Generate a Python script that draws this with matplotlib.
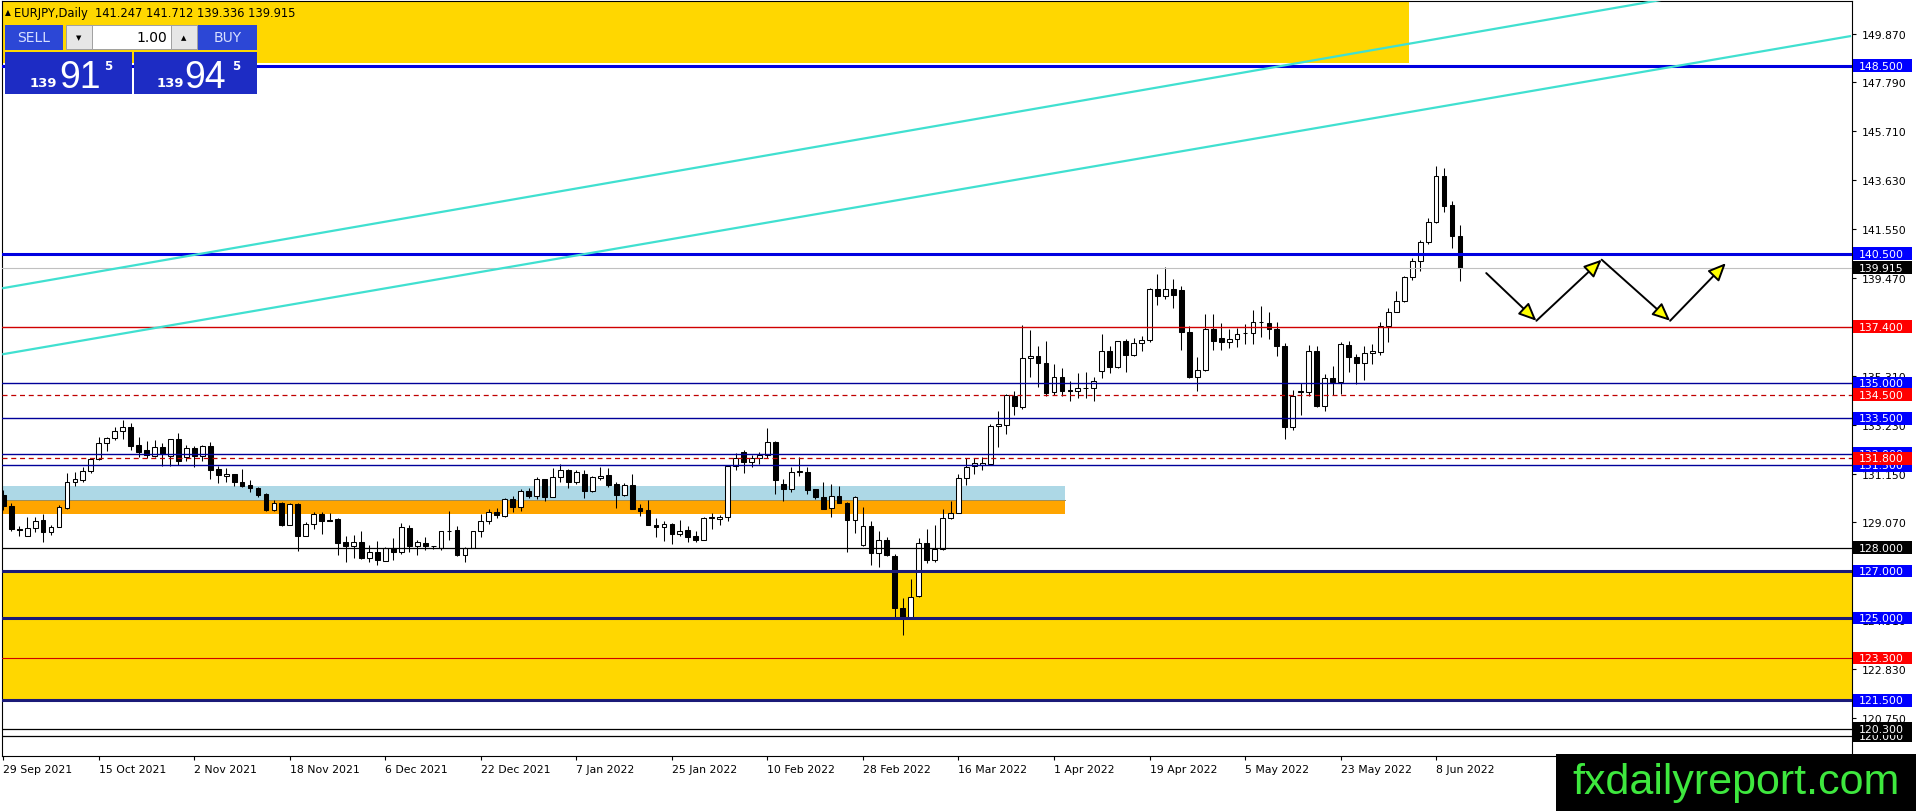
import matplotlib
matplotlib.use("Agg")
import matplotlib.pyplot as plt
from matplotlib.patches import Rectangle
from matplotlib.transforms import blended_transform_factory
import numpy as np

# EURJPY daily candles, bar 0 = 29 Sep 2021 ... bar 183 = last bar
opens = [130.25, 129.75, 128.80, 128.50, 128.82, 129.17, 128.65, 128.86, 129.68, 130.77,
         130.87, 131.24, 131.77, 132.43, 132.65, 132.94, 133.11, 132.36, 132.15, 131.91,
         132.26, 131.91, 132.62, 131.84, 132.23, 131.88, 132.31, 131.34, 131.05, 131.13,
         130.77, 130.66, 130.52, 130.28, 129.61, 129.89, 128.97, 129.85, 128.50, 129.00,
         129.43, 129.18, 129.21, 128.22, 128.08, 128.22, 127.54, 127.79, 127.44, 127.97,
         127.82, 128.82, 128.08, 128.19, 128.05, 127.97, 128.72, 128.74, 127.70, 127.98,
         128.69, 129.12, 129.50, 129.33, 130.07, 129.74, 130.42, 130.21, 130.92, 130.17,
         130.99, 131.30, 130.78, 131.13, 130.40, 130.96, 131.09, 130.71, 130.25, 130.67,
         129.69, 129.60, 128.96, 128.86, 129.01, 128.58, 128.75, 128.51, 128.34, 129.24,
         129.21, 129.29, 131.46, 132.06, 131.63, 131.80, 131.94, 132.51, 130.71, 130.50,
         131.23, 131.23, 130.50, 130.14, 129.67, 130.21, 129.89, 129.19, 128.11, 128.91,
         127.76, 128.34, 127.66, 125.43, 125.01, 125.93, 128.18, 127.49, 127.94, 129.25,
         129.46, 130.95, 131.49, 131.52, 131.56, 133.16, 133.23, 134.46, 133.97, 136.05,
         136.17, 135.84, 134.60, 135.27, 134.70, 134.68, 134.80, 134.78, 135.50, 136.35,
         135.67, 136.78, 136.21, 136.69, 136.85, 139.00, 138.72, 139.00, 138.96, 137.16,
         135.24, 135.56, 137.30, 136.90, 136.73, 136.87, 137.13, 137.13, 137.58, 137.56,
         137.30, 136.59, 133.12, 134.63, 134.63, 136.38, 134.04, 135.20, 135.06, 136.63,
         136.12, 135.84, 136.28, 136.31, 137.44, 138.01, 138.48, 139.50, 140.21, 140.99,
         141.84, 143.80, 142.58, 141.247]
highs = [130.45, 129.89, 128.93, 129.28, 129.28, 129.43, 128.96, 129.82, 131.17, 131.20,
         131.41, 131.80, 132.72, 132.72, 133.11, 133.43, 133.30, 132.72, 132.52, 132.59,
         132.45, 132.62, 132.87, 132.36, 132.33, 132.36, 132.50, 131.48, 131.38, 131.13,
         131.34, 130.89, 130.56, 130.31, 130.02, 129.92, 129.88, 129.88, 129.07, 129.50,
         129.50, 129.47, 129.24, 128.50, 128.53, 128.69, 128.12, 128.26, 128.04, 128.39,
         129.04, 128.96, 128.33, 128.46, 128.08, 128.72, 129.54, 128.93, 128.04, 128.72,
         129.41, 129.66, 129.67, 130.10, 130.18, 130.50, 130.54, 130.99, 130.92, 131.38,
         131.56, 131.35, 131.30, 131.30, 131.06, 131.42, 131.38, 130.81, 130.75, 131.13,
         129.86, 130.03, 129.25, 129.15, 129.03, 129.18, 128.91, 128.72, 129.29, 129.46,
         129.39, 131.46, 132.03, 132.13, 131.94, 132.08, 133.09, 132.52, 130.92, 131.42,
         131.84, 131.42, 130.50, 130.81, 130.71, 130.61, 129.93, 130.21, 129.72, 129.15,
         128.69, 128.44, 127.73, 125.84, 126.67, 128.40, 128.79, 128.96, 129.64, 130.00,
         131.13, 131.80, 131.80, 131.87, 133.26, 133.83, 134.53, 134.65, 137.47, 137.26,
         136.59, 136.78, 135.81, 135.63, 135.10, 135.43, 135.49, 135.24, 137.09, 136.59,
         136.80, 136.87, 136.90, 136.99, 139.03, 139.64, 139.95, 139.43, 139.14, 137.44,
         136.09, 137.94, 137.94, 137.56, 137.30, 137.33, 137.51, 138.11, 138.29, 138.01,
         137.61, 136.70, 134.70, 134.99, 136.62, 136.59, 135.39, 135.71, 136.76, 136.77,
         136.24, 136.59, 136.66, 137.61, 138.19, 138.90, 139.57, 140.31, 141.10, 142.01,
         144.22, 144.15, 142.76, 141.712]
lows = [129.60, 128.69, 128.50, 128.50, 128.67, 128.25, 128.55, 128.86, 129.64, 130.63,
        130.80, 131.17, 131.72, 132.09, 132.57, 132.62, 132.16, 131.84, 131.81, 131.84,
        131.45, 131.45, 131.53, 131.70, 131.41, 131.67, 130.92, 130.75, 130.77, 130.60,
        130.56, 130.35, 130.14, 129.57, 129.57, 128.93, 128.96, 127.87, 128.48, 128.79,
        128.57, 129.12, 127.68, 127.40, 127.54, 127.51, 127.40, 127.27, 127.41, 127.48,
        127.72, 127.79, 127.68, 127.91, 127.94, 127.91, 128.33, 127.66, 127.40, 127.98,
        128.47, 128.99, 129.25, 129.29, 129.53, 129.57, 130.10, 130.07, 129.96, 130.14,
        130.78, 130.54, 130.71, 130.10, 130.35, 130.89, 130.57, 129.67, 130.21, 129.64,
        129.33, 128.94, 128.47, 128.30, 128.16, 128.48, 128.25, 128.25, 128.34, 128.77,
        128.94, 129.11, 131.32, 131.18, 131.42, 131.56, 131.81, 130.28, 129.96, 130.35,
        131.06, 130.28, 130.07, 129.62, 129.29, 129.89, 127.83, 128.62, 128.08, 127.26,
        127.19, 127.66, 125.03, 124.28, 125.01, 125.89, 127.35, 127.40, 127.91, 129.22,
        129.46, 130.67, 131.11, 131.30, 131.52, 132.27, 132.83, 133.65, 133.90, 135.24,
        134.82, 134.46, 134.49, 134.46, 134.22, 134.35, 134.35, 134.25, 135.20, 135.43,
        135.63, 135.46, 136.17, 136.35, 136.76, 138.32, 138.58, 138.18, 136.42, 135.22,
        134.68, 135.53, 136.41, 136.41, 136.48, 136.52, 136.66, 136.66, 136.95, 136.87,
        136.14, 132.62, 133.02, 133.66, 134.44, 133.99, 133.83, 134.49, 134.53, 135.48,
        134.96, 135.14, 135.81, 136.21, 136.73, 138.01, 138.43, 139.40, 139.78, 140.92,
        141.80, 142.29, 140.73, 139.336]
closes = [129.75, 128.79, 128.75, 128.83, 129.14, 128.65, 128.89, 129.71, 130.77, 130.92,
          131.27, 131.77, 132.43, 132.66, 132.94, 133.11, 132.33, 132.05, 131.94, 132.26,
          131.98, 132.62, 131.70, 132.22, 131.88, 132.31, 131.31, 131.10, 131.13, 130.77,
          130.60, 130.52, 130.23, 129.61, 129.88, 128.96, 129.85, 128.50, 129.00, 129.43,
          129.14, 129.15, 128.19, 128.08, 128.22, 127.54, 127.79, 127.48, 127.98, 127.82,
          128.86, 128.08, 128.22, 128.05, 128.05, 128.69, 128.69, 127.70, 127.98, 128.69,
          129.13, 129.50, 129.39, 130.07, 129.74, 130.42, 130.21, 130.92, 130.14, 130.99,
          131.30, 130.78, 131.23, 130.40, 130.99, 131.06, 130.67, 130.25, 130.67, 129.64,
          129.57, 128.94, 128.86, 129.01, 128.58, 128.72, 128.47, 128.34, 129.26, 129.29,
          129.29, 131.46, 131.80, 131.63, 131.80, 131.94, 132.48, 130.89, 130.50, 131.20,
          131.23, 130.45, 130.14, 129.64, 130.21, 129.89, 129.19, 130.14, 128.91, 127.76,
          128.34, 127.69, 125.43, 125.01, 125.91, 128.18, 127.49, 127.94, 129.25, 129.46,
          130.95, 131.42, 131.59, 131.59, 133.16, 133.24, 134.49, 134.01, 136.05, 136.14,
          135.84, 134.58, 135.27, 134.65, 134.68, 134.78, 134.78, 135.07, 136.35, 135.67,
          136.78, 136.21, 136.69, 136.85, 139.00, 138.72, 139.00, 138.76, 137.16, 135.24,
          135.56, 137.30, 136.80, 136.73, 136.87, 137.09, 137.13, 137.58, 137.58, 137.30,
          136.59, 133.12, 134.44, 134.63, 136.38, 134.04, 135.20, 135.03, 136.66, 136.09,
          135.84, 136.28, 136.38, 137.41, 138.01, 138.48, 139.53, 140.18, 140.99, 141.84,
          143.80, 142.55, 141.27, 139.915]

date_ticks = [0, 12, 24, 36, 48, 60, 72, 84, 96, 108, 120, 132, 144, 156, 168, 180]
date_labels = ["29 Sep 2021", "15 Oct 2021", "2 Nov 2021", "18 Nov 2021", "6 Dec 2021",
               "22 Dec 2021", "7 Jan 2022", "25 Jan 2022", "10 Feb 2022", "28 Feb 2022",
               "16 Mar 2022", "1 Apr 2022", "19 Apr 2022", "5 May 2022", "23 May 2022",
               "8 Jun 2022"]
price_ticks = [149.87, 147.79, 145.71, 143.63, 141.55, 139.47, 137.39, 135.31, 133.23,
               131.15, 129.07, 126.99, 124.91, 122.83, 120.75]

# horizontal levels: price, line colour, width, style, label box colour
levels = [
    (148.5, "#0000e0", 2.2, "-", "#0000ff"),
    (140.5, "#0000e0", 2.2, "-", "#0000ff"),
    (137.4, "#d00000", 1.0, "-", "#ff0000"),
    (135.0, "#000099", 1.0, "-", "#0000ff"),
    (134.5, "#c00000", 0.9, (0, (4, 3)), "#ff0000"),
    (133.5, "#000099", 1.0, "-", "#0000ff"),
    (132.0, "#000099", 1.0, "-", "#0000ff"),
    (131.8, "#c00000", 0.9, (0, (4, 3)), "#ff0000"),
    (131.5, "#000099", 1.0, "-", "#0000ff"),
    (128.0, "#000000", 0.9, "-", "#000000"),
    (127.0, "#1a1a78", 2.2, "-", "#0000ff"),
    (125.0, "#1a1a78", 2.2, "-", "#0000ff"),
    (123.3, "#d00000", 0.8, "-", "#ff0000"),
    (121.5, "#1a1a78", 2.2, "-", "#0000ff"),
    (120.0, "#000000", 0.9, "-", "#000000"),
    (120.3, "#000000", 0.9, "-", "#000000"),
]
current_price = 139.915

# zones: first bar, last bar, low, high, colour
zones = [
    (-1, 176.6, 148.62, 152.0, "#ffd700"),
    (-1, 240, 121.5, 127.0, "#ffd700"),
    (-1, 133.4, 130.02, 130.62, "#add8e6"),
    (-1, 133.4, 129.42, 130.02, "#ffa500"),
]
# turquoise channel lines: (bar, price) anchors
trend_upper = ([0, 232], [139.04, 152.70])
trend_lower = ([0, 232], [136.23, 149.76])
# projected zig-zag path
path_bars = [186.3, 192.6, 200.8, 209.4, 216.4]
path_prices = [139.68, 137.65, 140.25, 137.65, 140.10]

W, H = 1916, 812
fig = plt.figure(figsize=(W / 100, H / 100), dpi=100)
fig.patch.set_facecolor("white")
L, R, T, B = 2, 1852, 2, 757
ylo, yhi = 119.13, 151.257
ax = fig.add_axes([L / W, 1 - B / H, (R - L) / W, (B - T) / H])
ax.set_xlim(-0.16, 232.25)
ax.set_ylim(ylo, yhi)

for x0, x1, lo, hi, col in zones:
    ax.add_patch(Rectangle((x0, lo), x1 - x0, hi - lo, facecolor=col, edgecolor="none", zorder=0.5))
ax.plot([-1, 133.4], [130.02, 130.02], color="#9c8f5c", lw=0.7, zorder=0.6)

o = np.array(opens)
h = np.array(highs)
lo = np.array(lows)
c = np.array(closes)
x = np.arange(len(o))
up = c >= o
ax.vlines(x, lo, h, color="black", lw=0.75, zorder=2)
bottom = np.minimum(o, c)
height = np.maximum(np.abs(c - o), 0.02)
ax.bar(x[up], height[up], bottom=bottom[up], width=0.6, facecolor="white",
       edgecolor="black", linewidth=0.75, zorder=3)
ax.bar(x[~up], height[~up], bottom=bottom[~up], width=0.6, facecolor="black",
       edgecolor="black", linewidth=0.75, zorder=3)

for price, col, lw, ls, _ in levels:
    ax.axhline(price, color=col, lw=lw, ls=ls, zorder=4)
ax.axhline(current_price, color="#c0c0c0", lw=0.8, zorder=3.5)

ax.plot(*trend_upper, color="#40e0d0", lw=1.6, zorder=4.5)
ax.plot(*trend_lower, color="#40e0d0", lw=1.6, zorder=4.5)

for k in range(len(path_bars) - 1):
    ax.annotate("", xy=(path_bars[k + 1], path_prices[k + 1]),
                xytext=(path_bars[k], path_prices[k]),
                arrowprops=dict(arrowstyle="-|>,head_length=0.9,head_width=0.4",
                                mutation_scale=12, fc="#ffff00", ec="black", lw=1.4,
                                shrinkA=0, shrinkB=0), zorder=6)

# axes look
for s in ax.spines.values():
    s.set_color("black")
    s.set_linewidth(0.8)
ax.yaxis.tick_right()
ax.set_yticks(price_ticks)
ax.set_yticklabels([f"{p:.3f}" for p in price_ticks])
ax.tick_params(axis="y", direction="out", length=3, pad=4, labelsize=7.8, colors="black")
ax.set_xticks(date_ticks)
ax.set_xticklabels(date_labels)
ax.tick_params(axis="x", direction="out", length=3, pad=3, labelsize=7.8)
for t in ax.get_xticklabels():
    t.set_horizontalalignment("left")

# price boxes on the right scale
tr = blended_transform_factory(ax.transAxes, ax.transData)
box_w = 59 / (R - L)
half = 6.3 * (yhi - ylo) / (B - T)
order = {"#0000ff": 11, "#ff0000": 12, "#000000": 13}
all_boxes = [(p, bc) for p, _, _, _, bc in levels] + [(current_price, "#000000")]
for n, (price, bc) in enumerate(all_boxes):
    z = order[bc] + n * 0.01
    ax.add_patch(Rectangle((1.0005, price - half), box_w, 2 * half, transform=tr,
                           facecolor=bc, edgecolor="none", clip_on=False, zorder=z))
    ax.text(1.0 + 7 / (R - L), price, f"{price:.3f}", transform=tr, color="white",
            fontsize=7.8, va="center", ha="left", clip_on=False, zorder=z + 0.005)


def fig_rect(x0, y0, x1, y1, fc, ec="none", lw=0, z=20):
    fig.add_artist(Rectangle((x0 / W, 1 - y1 / H), (x1 - x0) / W, (y1 - y0) / H,
                             transform=fig.transFigure, facecolor=fc, edgecolor=ec,
                             linewidth=lw, zorder=z))


def fig_txt(px, py, s, **kw):
    fig.text(px / W, 1 - py / H, s, zorder=25, **kw)


# symbol header
fig_txt(5, 13, "\u25b2", fontsize=5.5, va="center", ha="left", color="black")
fig_txt(14, 13, "EURJPY,Daily  141.247 141.712 139.336 139.915", fontsize=8.3,
        va="center", ha="left", color="black")

# one-click trading panel
head_col = "#2c47d6"
price_col = "#1d2cc4"
fig_rect(5, 26, 63, 51, head_col)
fig_rect(198, 26, 257, 51, head_col)
fig_rect(66, 26, 197, 50, "white", ec="#a0a0a0", lw=0.7)
fig_rect(66, 26, 92, 50, "#e6e6e6", ec="#a0a0a0", lw=0.7, z=21)
fig_rect(171, 26, 197, 50, "#e6e6e6", ec="#a0a0a0", lw=0.7, z=21)
fig_rect(5, 53, 132, 95, price_col)
fig_rect(134, 53, 257, 95, price_col)
fig_txt(34, 38.5, "SELL", fontsize=10, color="#d8e0ff", va="center", ha="center")
fig_txt(228, 38.5, "BUY", fontsize=10, color="#d8e0ff", va="center", ha="center")
fig_txt(79, 38, "\u25bc", fontsize=5, color="black", va="center", ha="center")
fig_txt(184, 38, "\u25b2", fontsize=5, color="black", va="center", ha="center")
fig_txt(167, 38.5, "1.00", fontsize=10, color="black", va="center", ha="right")
for x139, xbig, xsup, big in [(30, 59, 104, "91"), (157, 184, 232, "94")]:
    fig_txt(x139, 87, "139", fontsize=9.5, fontweight="bold", color="white",
            va="baseline", ha="left")
    fig_txt(xbig, 88, big, fontsize=27, family="Liberation Sans", color="white",
            va="baseline", ha="left")
    fig_txt(xsup, 66, "5", fontsize=8.5, fontweight="bold", color="white",
            va="center", ha="left")

# watermark
fig_rect(1556, 755, 1916, 812, "black", z=30)
fig.text(1736 / W, 1 - 783 / H, "fxdailyreport.com", color="#3ee83e", fontsize=31,
         family="Liberation Sans", ha="center", va="center", zorder=31)

fig.savefig("out.png", dpi=100, facecolor="white")
